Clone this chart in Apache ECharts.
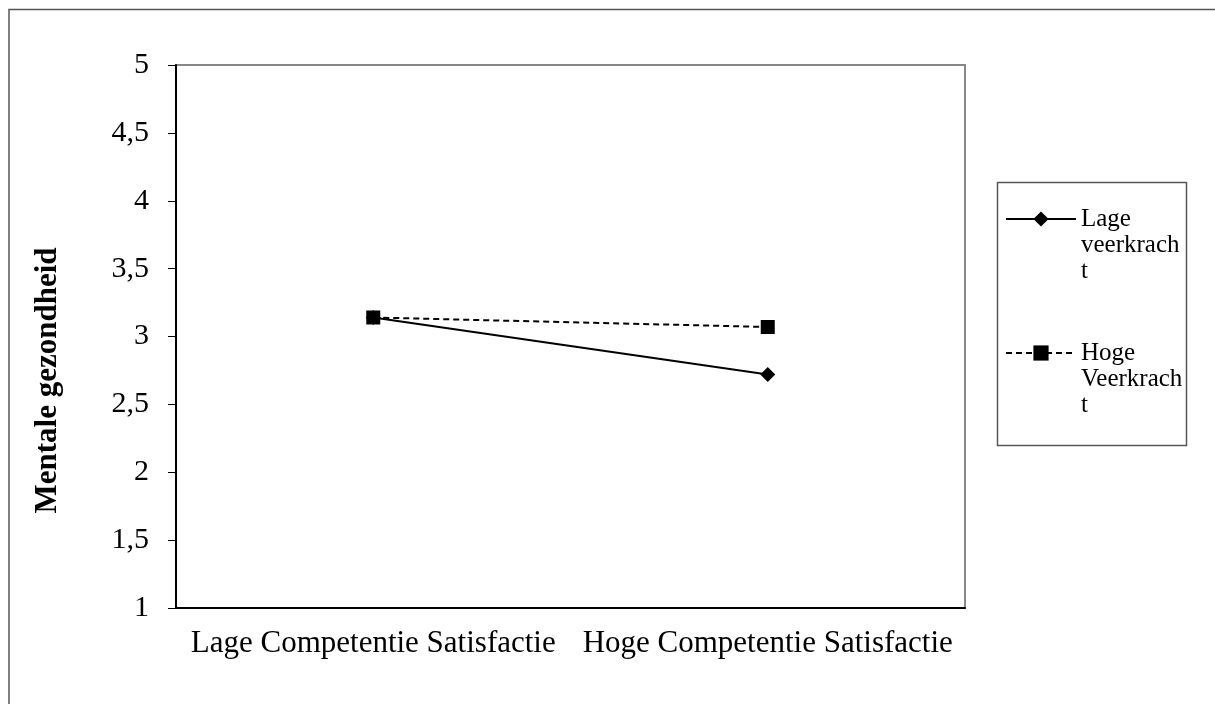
<!DOCTYPE html>
<html>
<head>
<meta charset="utf-8">
<script src="https://cdn.jsdelivr.net/npm/echarts@6/dist/echarts.min.js"></script>
<style>
  html, body { margin: 0; padding: 0; background: #fff; }
  #chart { width: 1215px; height: 704px; }
</style>
</head>
<body>
<div id="chart"></div>
<script>
  // categorieen op de x-as
  var categories = ['Lage Competentie Satisfactie', 'Hoge Competentie Satisfactie'];
  // waarden per reeks
  var lageVeerkracht = [3.14, 2.72];
  var hogeVeerkracht = [3.14, 3.07];
  var seriesNames = ['Lage veerkracht', 'Hoge Veerkracht'];
  // legenda tekst zoals afgebroken in het origineel
  var legendLabels = {
    'Lage veerkracht': ['Lage', 'veerkrach', 't'],
    'Hoge Veerkracht': ['Hoge', 'Veerkrach', 't']
  };
  var yTitle = 'Mentale gezondheid';

  var font = 'Liberation Serif, Times New Roman, serif';
  var myChart = echarts.init(document.getElementById('chart'));

  myChart.setOption({
    animation: false,
    color: ['#000', '#000'],
    // kader om de hele figuur en om de legenda
    graphic: [
      {
        type: 'rect',
        left: 6.5, top: 7,
        shape: { width: 1300, height: 800 },
        style: { fill: 'none', stroke: '#555', lineWidth: 1.5 },
        silent: true
      },
      {
        type: 'rect',
        left: 995, top: 180,
        shape: { width: 189, height: 263 },
        style: { fill: 'none', stroke: '#555', lineWidth: 1.5 },
        silent: true
      }
    ],
    legend: {
      orient: 'vertical',
      left: 1005,
      top: 154,
      padding: 0,
      itemWidth: 70,
      itemHeight: 19,
      itemGap: 4,
      data: seriesNames,
      // twee lege regels ervoor zodat de eerste regel naast het icoon staat
      formatter: function (name) { return '\n\n' + legendLabels[name].join('\n'); },
      textStyle: {
        fontFamily: font,
        fontSize: 25,
        lineHeight: 26,
        color: '#000'
      }
    },
    grid: {
      left: 176,
      right: 250,
      top: 65,
      bottom: 96,
      show: true,
      borderColor: '#888',
      borderWidth: 2
    },
    xAxis: {
      type: 'category',
      data: categories,
      boundaryGap: true,
      axisLine: { lineStyle: { color: '#000', width: 2 } },
      axisTick: { length: 9, lineStyle: { color: '#000', width: 1 } },
      axisLabel: {
        color: '#000',
        fontFamily: font,
        fontSize: 31,
        margin: 20,
        interval: 0
      },
      splitLine: { show: false }
    },
    yAxis: {
      type: 'value',
      min: 1,
      max: 5,
      interval: 0.5,
      name: yTitle,
      nameLocation: 'middle',
      nameRotate: 90,
      nameGap: 113,
      nameTextStyle: {
        fontFamily: font,
        fontSize: 31,
        fontWeight: 'bold',
        color: '#000',
        padding: [0, 88, 0, 0]
      },
      axisLine: { show: true, lineStyle: { color: '#000', width: 2 } },
      axisTick: { show: true, length: 8, lineStyle: { color: '#000', width: 1 } },
      axisLabel: {
        color: '#000',
        fontFamily: font,
        fontSize: 30,
        margin: 27,
        formatter: function (v) { return String(v).replace('.', ','); }
      },
      splitLine: { show: false }
    },
    series: [
      {
        name: seriesNames[0],
        type: 'line',
        data: lageVeerkracht,
        symbol: 'diamond',
        symbolSize: 15,
        lineStyle: { color: '#000', width: 2, type: 'solid' },
        itemStyle: { color: '#000' }
      },
      {
        name: seriesNames[1],
        type: 'line',
        data: hogeVeerkracht,
        symbol: 'rect',
        symbolSize: 14,
        lineStyle: { color: '#000', width: 2, type: [6, 4] },
        itemStyle: { color: '#000' }
      }
    ]
  });

  window.addEventListener('resize', function () { myChart.resize(); });
</script>
</body>
</html>
